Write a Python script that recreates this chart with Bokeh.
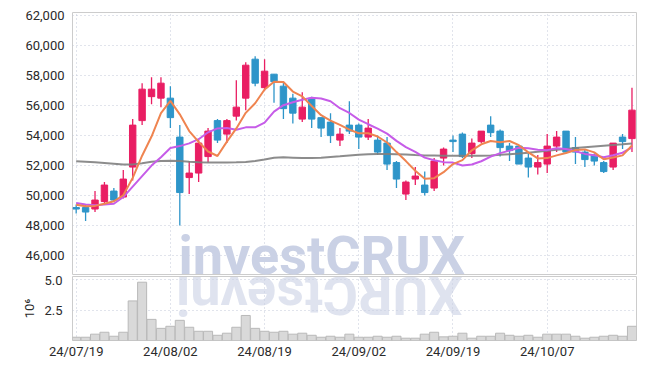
import numpy as np
from bokeh.plotting import figure
from bokeh.models import (FixedTicker, NumeralTickFormatter, ColumnDataSource,
                          Range1d, Label, Grid)
from bokeh.layouts import column
from bokeh.embed import file_html
from bokeh.resources import INLINE

dates = ["24/07/19", "24/07/22", "24/07/23", "24/07/24", "24/07/25", "24/07/26",
         "24/07/29", "24/07/30", "24/07/31", "24/08/01", "24/08/02", "24/08/05",
         "24/08/06", "24/08/07", "24/08/08", "24/08/09", "24/08/12", "24/08/13",
         "24/08/14", "24/08/16", "24/08/19", "24/08/20", "24/08/21", "24/08/22",
         "24/08/23", "24/08/26", "24/08/27", "24/08/28", "24/08/29", "24/08/30",
         "24/09/02", "24/09/03", "24/09/04", "24/09/05", "24/09/06", "24/09/09",
         "24/09/10", "24/09/11", "24/09/12", "24/09/13", "24/09/19", "24/09/20",
         "24/09/23", "24/09/24", "24/09/25", "24/09/26", "24/09/27", "24/09/30",
         "24/10/02", "24/10/04", "24/10/07", "24/10/08", "24/10/10", "24/10/11",
         "24/10/14", "24/10/15", "24/10/16", "24/10/17", "24/10/18", "24/10/21"]

opens = [49200, 49200, 49100, 49600, 50300, 49900, 51900, 55000, 56600, 56500,
         56500, 53900, 51200, 51500, 52600, 55000, 54100, 55300, 56500, 59100,
         57200, 58100, 57300, 56500, 55100, 56500, 55200, 54900, 53700, 54700,
         54700, 53900, 53700, 53500, 52200, 50100, 51100, 50700, 50500, 52500,
         53700, 54100, 52800, 53600, 54700, 54300, 53300, 53300, 52500, 51900,
         52100, 53300, 54300, 53200, 52900, 52700, 52200, 51900, 53900, 53800]
highs = [49400, 49400, 50300, 50900, 50500, 51700, 55100, 57500, 57900, 57900,
         57300, 54700, 52300, 53700, 54500, 55100, 55100, 57700, 58900, 59300,
         59100, 58100, 57600, 56800, 56900, 56600, 55200, 55500, 54500, 56300,
         54800, 55100, 54000, 53900, 52300, 51000, 51900, 51600, 52500, 53200,
         54000, 54200, 53800, 54300, 55300, 54400, 53500, 53300, 52800, 52700,
         54100, 54300, 54300, 53900, 53100, 52800, 52300, 53500, 54100, 57200]
lows = [48800, 48300, 48900, 49500, 49600, 49800, 51000, 54700, 56100, 55900,
        54500, 48000, 50100, 50900, 52200, 53500, 53500, 55000, 55700, 57300,
        57000, 56200, 55100, 54800, 54900, 54500, 53900, 53500, 53300, 54100,
        53100, 53700, 52700, 51700, 50500, 49700, 50700, 50000, 50300, 52000,
        52900, 52500, 52500, 53500, 53900, 52600, 52300, 52100, 51200, 51400,
        51500, 52900, 52900, 52100, 51900, 52000, 51500, 51700, 53100, 52900]
closes = [49100, 48900, 49700, 50700, 49700, 51100, 54700, 57100, 57100, 57500,
          55200, 50200, 51500, 53500, 54300, 53700, 55000, 55900, 58700, 57500,
          58300, 57600, 55800, 55500, 55900, 55100, 54500, 54000, 54100, 54300,
          53900, 54500, 52900, 52100, 51100, 50900, 51300, 50200, 52300, 53100,
          53600, 52600, 53500, 54300, 54200, 53200, 53000, 52100, 51900, 52200,
          53300, 53900, 52900, 52900, 52400, 52300, 51600, 53500, 53600, 55700]
volumes = [270000, 270000, 520000, 680000, 350000, 680000, 3260000, 4800000,
           1740000, 1000000, 1170000, 1660000, 1090000, 760000, 760000, 430000,
           600000, 1090000, 2060000, 1000000, 760000, 680000, 760000, 520000,
           600000, 430000, 270000, 350000, 270000, 520000, 270000, 270000,
           350000, 270000, 350000, 190000, 190000, 520000, 680000, 300000,
           350000, 600000, 190000, 350000, 350000, 600000, 430000, 350000,
           430000, 270000, 520000, 520000, 520000, 350000, 190000, 270000,
           350000, 430000, 350000, 1170000]
ma5 = [49380, 49290, 49310, 49450, 49620, 50020, 51180, 52660, 53940, 55500,
       56320, 55420, 54300, 53580, 52940, 52640, 53600, 54480, 55520, 56160,
       57080, 57600, 57580, 56940, 56620, 55980, 55360, 55000, 54720, 54400,
       54160, 54160, 53940, 53540, 52900, 52300, 51660, 51120, 51160, 51560,
       52100, 52360, 53020, 53420, 53640, 53560, 53640, 53360, 52880, 52480,
       52500, 52680, 52840, 53040, 53080, 52880, 52420, 52540, 52680, 53340]
ma10 = [49500, 49400, 49350, 49400, 49450, 49900, 50600, 51300, 52000, 52560,
        53170, 53300, 53480, 53760, 54220, 54480, 54510, 54390, 54550, 54550,
        54860, 55600, 56030, 56230, 56390, 56530, 56480, 56290, 55830, 55510,
        55070, 54760, 54470, 54130, 53650, 53230, 52910, 52530, 52350, 52230,
        52200, 52010, 52070, 52290, 52600, 52830, 53000, 53190, 53150, 53060,
        53030, 53160, 53100, 52960, 52780, 52690, 52550, 52690, 52860, 53210]
ma_long = [52290, 52260, 52220, 52180, 52130, 52080, 52080, 52150, 52250, 52300,
           52330, 52300, 52260, 52230, 52210, 52210, 52210, 52220, 52240, 52300,
           52400, 52520, 52550, 52530, 52500, 52500, 52530, 52580, 52620, 52680,
           52730, 52760, 52780, 52780, 52760, 52740, 52700, 52680, 52670, 52660,
           52650, 52650, 52650, 52660, 52680, 52720, 52760, 52800, 52860, 52920,
           52990, 53050, 53110, 53170, 53220, 53270, 53320, 53370, 53420, 53480]
price_ticks = [46000, 48000, 50000, 52000, 54000, 56000, 58000, 60000, 62000]
volume_ticks = [2.5, 5.0]
date_tick_idx = [0, 10, 20, 30, 40, 50]

UP = "#e91e63"
DOWN = "#2e95c9"
GRID = "#c3c8d8"
LABEL_FONT = "Roboto"
LABEL_COLOR = "#2a2a2a"

x = list(range(len(dates)))
src = ColumnDataSource(dict(
    x=x, high=highs, low=lows,
    top=[max(o, c) for o, c in zip(opens, closes)],
    bottom=[min(o, c) for o, c in zip(opens, closes)],
    color=[UP if c > o else DOWN for o, c in zip(opens, closes)],
    vol=[v / 1e6 for v in volumes],
))

xr = Range1d(-0.39, 59.48)

p1 = figure(width=640, height=275, x_range=xr, y_range=Range1d(44665, 62215),
            output_backend="svg", toolbar_location=None,
            min_border_left=72, min_border_right=4, min_border_top=12,
            min_border_bottom=0, x_axis_location=None)
p2 = figure(width=640, height=93, x_range=xr, y_range=Range1d(0, 5.27),
            output_backend="svg", toolbar_location=None,
            min_border_left=72, min_border_right=4, min_border_top=1,
            min_border_bottom=28)

for p in (p1, p2):
    p.outline_line_color = "#cccccc"
    p.background_fill_color = "white"
    p.border_fill_color = "white"
    p.xgrid.visible = False
    p.add_layout(Grid(dimension=0, ticker=FixedTicker(ticks=date_tick_idx),
                      grid_line_color=GRID, grid_line_dash="1 3",
                      grid_line_width=1), "center")
    p.ygrid.grid_line_color = GRID
    p.ygrid.grid_line_dash = "1 3"
    for ax in p.yaxis:
        ax.axis_line_color = None
        ax.major_tick_line_color = None
        ax.minor_tick_line_color = None
        ax.major_tick_out = 0
        ax.major_tick_in = 0
        ax.minor_tick_out = 0
        ax.minor_tick_in = 0
        ax.major_label_text_font = LABEL_FONT
        ax.major_label_text_color = LABEL_COLOR

# watermark and its reflection
wm = Label(x=10.86, y=46000, text="investCRUX", text_font="Roboto",
           text_font_style="bold", text_font_size="54px", text_color="#cad1e5",
           text_baseline="alphabetic", text_align="left", level="underlay")
p1.add_layout(wm)
wm2 = Label(x=41.0, y=3.72, text="XURCtsevni", text_font="Roboto",
            text_font_style="bold", text_font_size="54px", text_color="#cad1e5",
            text_alpha=0.6, angle=np.pi, text_baseline="alphabetic",
            text_align="left", level="underlay")
p2.add_layout(wm2)

p1.yaxis.ticker = FixedTicker(ticks=price_ticks)
p1.yaxis.formatter = NumeralTickFormatter(format="0,0")
p1.yaxis.major_label_text_font_size = "13px"
p1.yaxis.major_label_standoff = 8

p1.segment(x0="x", y0="high", x1="x", y1="low", line_color="color",
           line_width=1.3, source=src)
p1.vbar(x="x", width=0.68, top="top", bottom="bottom", fill_color="color",
        line_color="color", line_width=1, source=src)
p1.line(x, ma_long, line_color="#7f7f7f", line_width=2, line_alpha=0.9)
p1.line(x, ma10, line_color="#c65ce8", line_width=2)
p1.line(x, ma5, line_color="#ef8450", line_width=2)

p2.vbar(x="x", width=0.96, top="vol", bottom=0, fill_color="#d9d9d9",
        line_color="#b9b9b9", line_width=1, source=src)
p2.yaxis.ticker = FixedTicker(ticks=volume_ticks)
p2.yaxis.formatter = NumeralTickFormatter(format="0.0")
p2.yaxis.major_label_text_font_size = "13px"
p2.yaxis.major_label_standoff = 10
p2.yaxis.axis_label = "10\u2076"
p2.yaxis.axis_label_text_font_style = "normal"
p2.yaxis.axis_label_text_font_size = "13px"
p2.yaxis.axis_label_text_font = LABEL_FONT
p2.yaxis.axis_label_text_color = LABEL_COLOR
p2.yaxis.axis_label_standoff = 4

p2.xaxis.ticker = FixedTicker(ticks=date_tick_idx)
p2.xaxis.major_label_overrides = {i: dates[i] for i in date_tick_idx}
p2.xaxis.axis_line_color = None
p2.xaxis.major_tick_line_color = None
p2.xaxis.minor_tick_line_color = None
p2.xaxis.major_tick_out = 0
p2.xaxis.major_tick_in = 0
p2.xaxis.minor_tick_out = 0
p2.xaxis.minor_tick_in = 0
p2.xaxis.major_label_text_font = LABEL_FONT
p2.xaxis.major_label_text_font_size = "13px"
p2.xaxis.major_label_text_color = LABEL_COLOR
p2.xaxis.major_label_standoff = 3

layout = column(p1, p2, spacing=0)
open("out.html", "w").write(file_html(layout, INLINE))
